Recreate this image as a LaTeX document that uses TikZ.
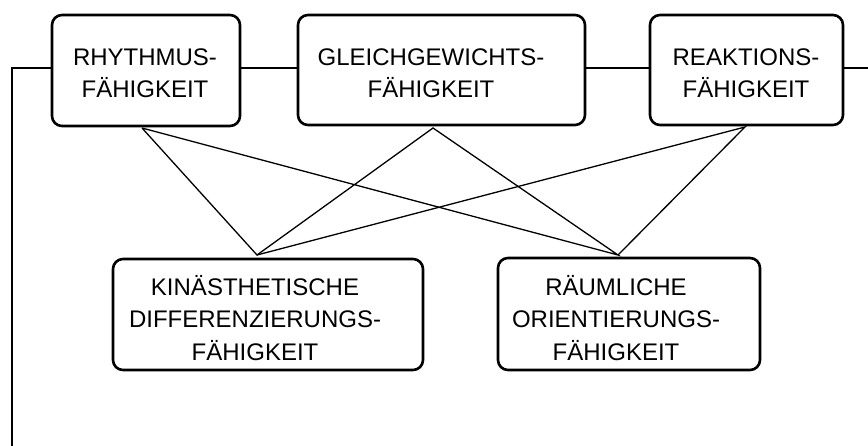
\documentclass[tikz,border=0pt]{standalone}
\usepackage{fontspec}
\setmainfont{Liberation Sans}
\begin{document}
\begin{tikzpicture}[x=1pt,y=-1pt,
  box/.style={draw, line width=2.6pt, rounded corners=10pt, inner sep=0pt},
  txt/.style={align=center, inner sep=0pt, font=\fontsize{24}{32.5}\selectfont},
  conn/.style={line width=2pt},
  cross/.style={line width=1.3pt}]
\useasboundingbox (0,0) rectangle (868,446);
% top boxes
\node[box, minimum width=188pt, minimum height=111pt] (r) at (146,70.5) {};
\node[txt] (rt) at (145,73) {RHYTHMUS-\\FÄHIGKEIT};
\node[box, minimum width=287pt, minimum height=110pt] (g) at (441.5,70) {};
\node[txt] (gt) at (431,73) {GLEICHGEWICHTS-\\FÄHIGKEIT};
\node[box, minimum width=193pt, minimum height=110pt] (a) at (746.5,70) {};
\node[txt] (at) at (746,73) {REAKTIONS-\\FÄHIGKEIT};
% bottom boxes
\node[box, minimum width=310pt, minimum height=111pt] (k) at (268,314.5) {};
\node[txt] (kt) at (255,318) {KINÄSTHETISCHE\\DIFFERENZIERUNGS-\\FÄHIGKEIT};
\node[box, minimum width=262pt, minimum height=112pt] (o) at (629,314) {};
\node[txt] (ot) at (616,318) {RÄUMLICHE\\ORIENTIERUNGS-\\FÄHIGKEIT};
% horizontal connectors
\coordinate (lc) at (12,68);
\coordinate (lb) at (12,446);
\coordinate (rc) at (868,68);
\draw[conn] (lb) -- (lc) -- (r.west |- lc);
\draw[conn] (r.east |- lc) -- (g.west |- lc);
\draw[conn] (g.east |- lc) -- (a.west |- lc);
\draw[conn] (a.east |- rc) -- (rc);
% cross connectors
\coordinate (r1) at (142,128);
\coordinate (g1) at (433,128);
\coordinate (a1) at (745,127);
\coordinate (k1) at (257,255);
\coordinate (o1) at (618,255);
\draw[cross] (r1) -- (k1) -- (g1) -- (o1) -- (r1);
\draw[cross] (k1) -- (a1) -- (o1);
\end{tikzpicture}
\end{document}
